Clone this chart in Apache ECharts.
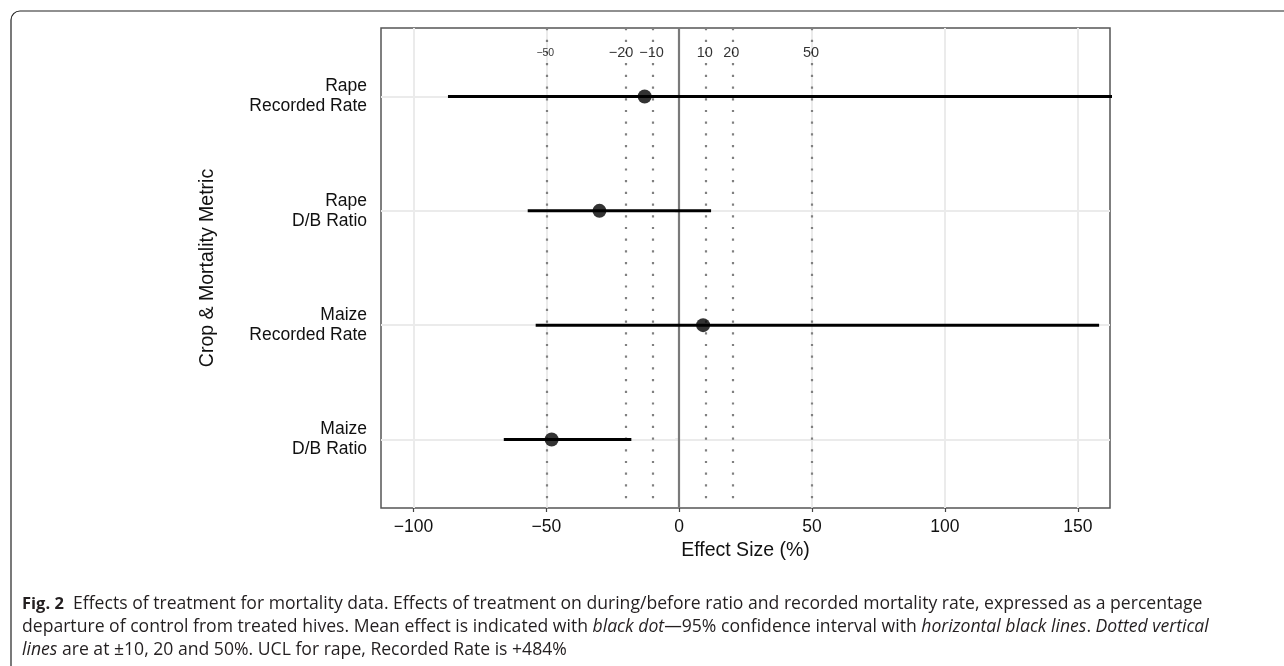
<!DOCTYPE html>
<html>
<head>
<meta charset="utf-8">
<script src="https://cdn.jsdelivr.net/npm/echarts@6/dist/echarts.min.js"></script>
<style>
  html, body { margin: 0; padding: 0; background: #fff; }
  #chart { width: 1284px; height: 666px; }
</style>
</head>
<body>
<div id="chart"></div>
<script>
// ---- data ----
const categories = ['Rape\nRecorded Rate', 'Rape\nD/B Ratio', 'Maize\nRecorded Rate', 'Maize\nD/B Ratio'];
const meanEffect = [-13.0, -30.0, 9.0, -48.0];
const lowerCI = [-87.0, -57.0, -54.0, -66.0];
const upperCI = [484.0, 12.0, 158.0, -18.0];
const xTicks = [-100, -50, 0, 50, 100, 150];
const xTickLabels = ['\u2212100', '\u221250', '0', '50', '100', '150'];
const refLines = [-50, -20, -10, 10, 20, 50];
const refLabels = ['\u221250', '\u221220', '\u221210', '10', '20', '50'];
const xRange = [-112.2, 162.1];
const yRange = [0.4, 4.6];
const refLabelY = 0.62;

const rowIdx = categories.map((c, i) => i + 1);
const font = 'Liberation Sans, Arial, sans-serif';
const capFont = '"Open Sans", "Noto Sans", sans-serif';
const capSize = 17.6;

const chart = echarts.init(document.getElementById('chart'), null, { renderer: 'canvas' });

const ciSeries = categories.map((c, i) => ({
  type: 'line',
  data: [[lowerCI[i], i + 1], [upperCI[i], i + 1]],
  showSymbol: false,
  symbol: 'none',
  clip: true,
  silent: true,
  lineStyle: { color: '#000', width: 3, cap: 'butt' },
  z: 5
}));

const option = {
  animation: false,
  grid: {
    left: 381, top: 28, right: 174, bottom: 158,
    show: true, borderColor: '#555', borderWidth: 1.5, backgroundColor: '#fff'
  },
  xAxis: {
    type: 'value',
    min: xRange[0], max: xRange[1],
    axisLine: { show: false },
    axisTick: { show: true, customValues: xTicks, length: 4, lineStyle: { color: '#444', width: 1.2 } },
    axisLabel: {
      customValues: xTicks,
      formatter: v => xTickLabels[xTicks.indexOf(v)],
      fontFamily: font, fontSize: 17.5, color: '#111', margin: 10
    },
    splitLine: { show: false },
    name: 'Effect Size (%)',
    nameLocation: 'middle',
    nameGap: 33,
    nameTextStyle: { fontFamily: font, fontSize: 19.5, color: '#111', verticalAlign: 'top' }
  },
  yAxis: {
    type: 'value',
    min: yRange[0], max: yRange[1],
    inverse: true,
    axisLine: { show: false },
    axisTick: { show: true, customValues: rowIdx, length: 4, lineStyle: { color: '#444', width: 1.2 } },
    axisLabel: {
      customValues: rowIdx,
      formatter: v => categories[v - 1],
      fontFamily: font, fontSize: 17.5, color: '#111', margin: 14,
      align: 'right', lineHeight: 20
    },
    splitLine: { show: false },
    name: 'Crop & Mortality Metric',
    nameLocation: 'middle',
    nameRotate: 90,
    nameGap: 163,
    nameTextStyle: { fontFamily: font, fontSize: 19.5, color: '#111' }
  },
  series: [
    {
      type: 'line', data: [], silent: true, z: 1,
      markLine: {
        silent: true, symbol: 'none', animation: false,
        label: { show: false },
        lineStyle: { color: '#ebebeb', width: 2, type: 'solid' },
        data: xTicks.map(v => ({ xAxis: v })).concat(rowIdx.map(v => ({ yAxis: v })))
      }
    },
    {
      type: 'line', data: [], silent: true, z: 2,
      markLine: {
        silent: true, symbol: 'none', animation: false,
        label: { show: false },
        lineStyle: { color: '#808080', width: 2.2, type: [2.2, 9.5], cap: 'butt' },
        data: refLines.map(v => ({ xAxis: v }))
      }
    },
    {
      type: 'line', data: [], silent: true, z: 3,
      markLine: {
        silent: true, symbol: 'none', animation: false,
        label: { show: false },
        lineStyle: { color: '#7a7a7a', width: 2.2, type: 'solid' },
        data: [{ xAxis: 0 }]
      }
    },
    ...ciSeries,
    {
      type: 'scatter',
      data: meanEffect.map((m, i) => [m, i + 1]),
      symbol: 'circle', symbolSize: 14,
      itemStyle: { color: '#000' },
      silent: true, z: 6
    },
    {
      type: 'scatter',
      data: refLines.map((v, i) => ({
        value: [v, refLabelY],
        label: {
          fontSize: i === 0 ? 10.5 : 14.5,
          offset: i === 1 ? [-5, 0] : [-1, 0]
        }
      })),
      symbolSize: 0,
      silent: true, z: 7,
      label: {
        show: true, position: 'inside',
        formatter: p => refLabels[p.dataIndex],
        fontFamily: font, color: '#000'
      }
    }
  ],
  graphic: [
    {
      type: 'rect', silent: true, z: -1,
      shape: { x: 11, y: 11, width: 1300, height: 665, r: 9 },
      style: { fill: 'none', stroke: '#222', lineWidth: 1.2 }
    },
    {
      type: 'text', left: 22, top: 595,
      style: {
        text: '{b|Fig. 2}  Effects of treatment for mortality data. Effects of treatment on during/before ratio and recorded mortality rate, expressed as a percentage',
        fontFamily: capFont, fontSize: capSize, fill: '#231f20',
        rich: { b: { fontWeight: 'bold', fontFamily: capFont, fontSize: 16.5, fill: '#231f20' } }
      }
    },
    {
      type: 'text', left: 22, top: 618,
      style: {
        text: 'departure of control from treated hives. Mean effect is indicated with {i|black dot}\u201495% confidence interval with {i|horizontal black lines}. {i|Dotted vertical}',
        fontFamily: capFont, fontSize: capSize, fill: '#231f20',
        rich: { i: { fontStyle: 'italic', fontFamily: capFont, fontSize: capSize, fill: '#231f20' } }
      }
    },
    {
      type: 'text', left: 22, top: 641,
      style: {
        text: '{i|lines} are at \u00b110, 20 and 50%. UCL for rape, Recorded Rate is +484%',
        fontFamily: capFont, fontSize: capSize, fill: '#231f20',
        rich: { i: { fontStyle: 'italic', fontFamily: capFont, fontSize: capSize, fill: '#231f20' } }
      }
    }
  ]
};

chart.setOption(option);
</script>
</body>
</html>
